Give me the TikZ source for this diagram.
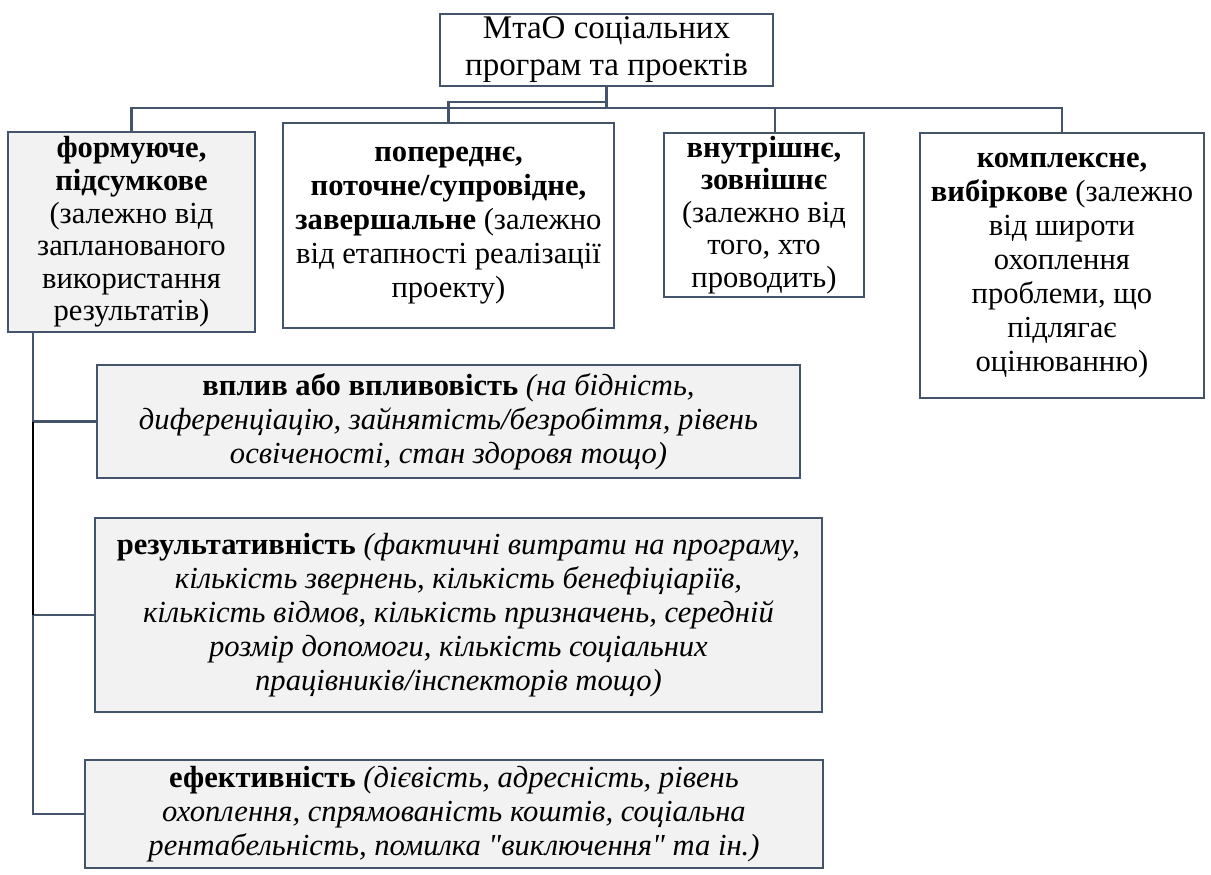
\documentclass[tikz,border=0pt]{standalone}
\usepackage{fontspec}
\setmainfont{Liberation Serif}[Ligatures=TeXOff]
\definecolor{edge}{HTML}{44546A}
\definecolor{fillg}{HTML}{F2F2F2}
\begin{document}
\begin{tikzpicture}[x=0.5pt,y=-0.5pt,
  box/.style={draw=edge, line width=1.3pt, align=center, inner sep=0pt,
    font=\fontsize{15.3}{17}\selectfont},
  tight/.style={font=\fontsize{15.3}{16.3}\selectfont},
  gbox/.style={box, fill=fillg},
  wbox/.style={box, fill=white},
  conn/.style={draw=edge, line width=1.05pt},
]
\useasboundingbox (0,0) rectangle (1211,874);
\node[wbox, minimum width=166.5pt, minimum height=36pt, font=\fontsize{16.5}{18.5}\selectfont] (top) at (606.5,50)
  {МтаО соціальних\\програм та проектів};
\node[gbox, tight, minimum width=123.5pt, minimum height=100pt] (f1) at (131.5,232)
  {\textbf{формуюче,}\\\textbf{підсумкове}\\(залежно від\\запланованого\\використання\\результатів)};
\node[wbox, minimum width=165.5pt, minimum height=102.5pt] (f2) at (448.5,225.5)
  {\textbf{попереднє,}\\\textbf{поточне/супровідне,}\\\textbf{завершальне} (залежно\\від етапності реалізації\\проекту)};
\node[wbox, tight, minimum width=100pt, minimum height=82pt] (f3) at (764,215)
  {\textbf{внутрішнє,}\\\textbf{зовнішнє}\\(залежно від\\того, хто\\проводить)};
\node[wbox, minimum width=142pt, minimum height=132.5pt] (f4) at (1062,265.5)
  {\textbf{комплексне,}\\\textbf{вибіркове} (залежно\\від широти\\охоплення\\проблеми, що\\підлягає\\оцінюванню)};
\node[gbox, minimum width=351.5pt, minimum height=56.5pt] (v) at (448.5,421.5)
  {\textbf{вплив або впливовість} \textit{(на бідність,}\\\textit{диференціацію, зайнятість/безробіття, рівень}\\\textit{освіченості, стан здоровя тощо)}};
\node[gbox, minimum width=363.5pt, minimum height=97pt] (r) at (458.5,615)
  {\textbf{результативність} \textit{(фактичні витрати на програму,}\\\textit{кількість звернень, кількість бенефіціаріїв,}\\\textit{кількість відмов, кількість призначень, середній}\\\textit{розмір допомоги, кількість соціальних}\\\textit{працівників/інспекторів тощо)}};
\node[gbox, minimum width=369pt, minimum height=54pt] (e) at (454,814)
  {\textbf{ефективність} \textit{(дієвість, адресність, рівень}\\\textit{охоплення, спрямованість коштів, соціальна}\\\textit{рентабельність, помилка "виключення" та ін.)}};
% junctions
\coordinate (j) at (607,108);
\coordinate (jb) at (607,102);
\coordinate (lt) at (33,0);
\draw[conn] (top.south) -- (top.south |- j);
\draw[conn] (top.south |- jb) -| (f2.north);
\draw[conn] (f1.north) |- (f4.north |- j) -- (f4.north);
\draw[conn] ([xshift=5.5pt]f3.north) -- ([xshift=5.5pt]f3.north |- j);
\draw[conn] (lt |- f1.south) -- (lt |- e.west) -- (e.west);
\draw[conn] (lt |- v.west) -- (v.west);
\draw[conn] (lt |- r.west) -- (r.west);
\draw[black, line width=1.3pt] (lt |- v.west) -- (lt |- r.west);
\end{tikzpicture}
\end{document}
